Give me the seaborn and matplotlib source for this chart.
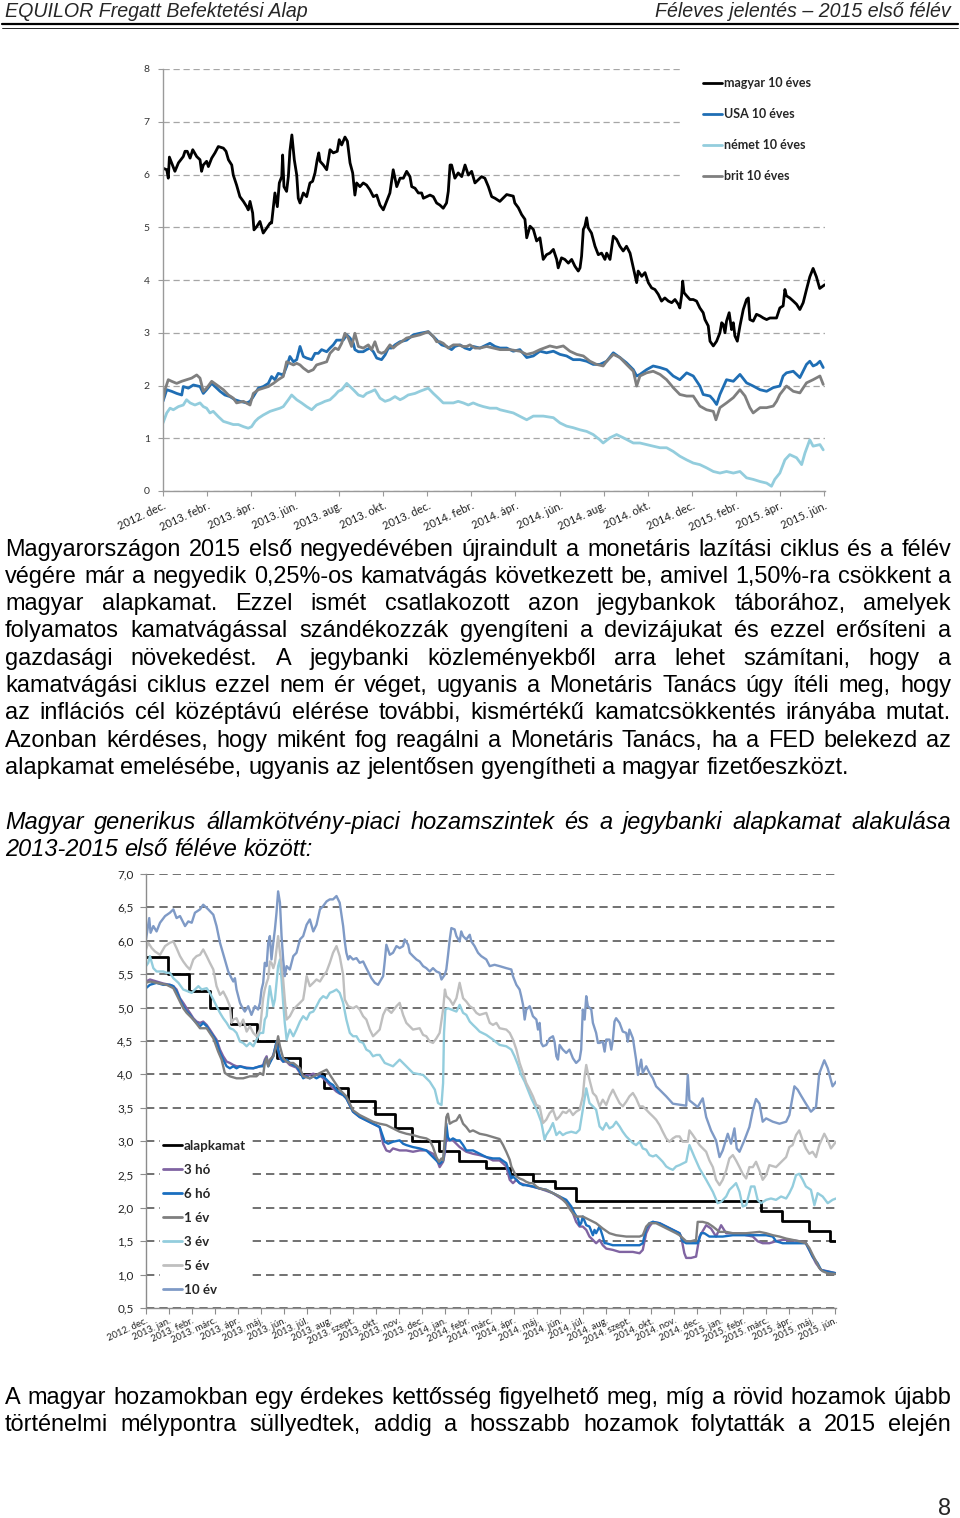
import numpy as np
import matplotlib
matplotlib.use("Agg")
import matplotlib.pyplot as plt
from matplotlib.lines import Line2D
import seaborn as sns

W, H, DPI = 960, 1518, 100

# ---------------- Chart 1: 10-year government bond yields (x = months since 2012 Dec) ----------------
c1_ticks = ["2012. dec.", "2013. febr.", "2013. ápr.", "2013. jún.", "2013. aug.", "2013. okt.",
            "2013. dec.", "2014. febr.", "2014. ápr.", "2014. jún.", "2014. aug.", "2014. okt.",
            "2014. dec.", "2015. febr.", "2015. ápr.", "2015. jún."]
c1_labels = ["magyar 10 éves", "USA 10 éves", "német 10 éves", "brit 10 éves"]

hu10 = [[0.00,6.12],[0.17,6.09],[0.24,5.93],[0.29,6.33],[0.39,6.22],[0.54,6.06],[0.70,6.22],[0.92,6.34],[1.00,6.44],[1.10,6.44],
        [1.23,6.31],[1.35,6.47],[1.53,6.34],[1.68,6.28],[1.75,6.06],[1.83,6.18],[1.98,6.25],[2.06,6.15],[2.21,6.31],[2.36,6.41],
        [2.51,6.53],[2.74,6.50],[2.86,6.44],[2.97,6.28],[3.12,6.18],[3.19,5.99],[3.34,5.80],[3.49,5.58],[3.65,5.49],[3.80,5.39],
        [3.87,5.33],[3.95,5.49],[4.07,5.27],[4.13,4.95],[4.25,5.01],[4.40,5.11],[4.55,4.89],[4.70,4.98],[4.86,5.08],[4.93,5.08],
        [5.01,5.39],[5.08,5.65],[5.19,5.39],[5.28,5.84],[5.39,5.96],[5.43,6.37],[5.49,5.77],[5.61,5.68],[5.69,5.96],[5.76,6.44],
        [5.85,6.75],[5.96,6.28],[6.07,5.99],[6.14,5.55],[6.22,5.46],[6.37,5.65],[6.52,5.58],[6.67,5.84],[6.79,5.87],[6.90,6.03],
        [7.00,6.28],[7.07,6.41],[7.13,6.25],[7.28,6.18],[7.43,6.09],[7.58,6.47],[7.73,6.41],[7.91,6.44],[8.00,6.66],[8.11,6.56],
        [8.26,6.71],[8.37,6.63],[8.49,6.22],[8.61,6.03],[8.67,5.77],[8.71,5.61],[8.79,5.84],[8.94,5.77],[9.09,5.84],[9.24,5.80],
        [9.39,5.71],[9.55,5.58],[9.70,5.61],[9.85,5.42],[10.00,5.33],[10.15,5.49],[10.30,5.65],[10.45,6.09],[10.61,5.77],[10.76,5.93],
        [10.91,5.93],[11.06,6.06],[11.21,5.96],[11.29,5.77],[11.44,5.74],[11.59,5.65],[11.74,5.65],[11.82,5.55],[11.97,5.58],[12.12,5.61],
        [12.27,5.58],[12.42,5.46],[12.57,5.42],[12.72,5.36],[12.87,5.46],[12.95,5.68],[13.03,6.18],[13.10,6.18],[13.25,5.93],[13.40,6.03],
        [13.56,5.96],[13.71,6.18],[13.86,5.99],[14.01,6.06],[14.16,5.84],[14.31,5.90],[14.46,5.96],[14.61,5.93],[14.77,5.77],[14.92,5.58],
        [15.07,5.55],[15.29,5.49],[15.60,5.62],[15.90,5.59],[15.97,5.46],[16.13,5.37],[16.28,5.24],[16.43,5.15],[16.51,4.80],[16.66,5.02],
        [16.81,4.96],[16.96,4.74],[17.11,4.80],[17.19,4.58],[17.26,4.39],[17.41,4.48],[17.56,4.51],[17.72,4.58],[17.87,4.39],[17.94,4.23],
        [18.09,4.42],[18.24,4.39],[18.40,4.32],[18.55,4.39],[18.70,4.26],[18.85,4.17],[18.93,4.23],[19.00,4.45],[19.08,4.96],[19.15,5.02],
        [19.23,5.18],[19.30,4.99],[19.45,4.89],[19.61,4.64],[19.76,4.48],[19.91,4.51],[20.06,4.39],[20.14,4.51],[20.29,4.39],[20.44,4.83],
        [20.59,4.77],[20.74,4.64],[20.89,4.55],[21.04,4.64],[21.20,4.51],[21.35,4.23],[21.50,3.95],[21.57,4.17],[21.73,4.07],[21.88,4.14],
        [22.03,3.95],[22.18,3.85],[22.33,3.82],[22.48,3.73],[22.63,3.60],[22.78,3.66],[22.94,3.60],[23.09,3.57],[23.24,3.63],[23.39,3.54],
        [23.46,3.47],[23.54,3.70],[23.59,3.98],[23.65,3.76],[23.77,3.70],[23.92,3.63],[24.07,3.63],[24.22,3.60],[24.37,3.47],[24.52,3.38],
        [24.60,3.25],[24.75,3.13],[24.83,2.84],[24.98,2.75],[25.13,2.84],[25.28,3.00],[25.36,3.19],[25.43,3.16],[25.51,3.00],[25.58,3.22],
        [25.70,3.38],[25.81,3.06],[25.89,3.19],[25.96,2.94],[26.07,2.84],[26.19,3.13],[26.34,3.44],[26.49,3.63],[26.57,3.66],[26.64,3.25],
        [26.79,3.22],[26.94,3.35],[27.10,3.32],[27.25,3.28],[27.40,3.25],[27.55,3.28],[27.85,3.28],[28.00,3.47],[28.15,3.51],[28.23,3.82],
        [28.30,3.70],[28.45,3.66],[28.61,3.60],[28.76,3.54],[28.91,3.44],[29.06,3.57],[29.21,3.82],[29.36,4.06],[29.51,4.22],[29.66,4.06],
        [29.81,3.84],[30.04,3.91]]

usa10 = [[0.00,1.70],[0.17,1.92],[0.39,1.89],[0.62,1.85],[0.85,1.82],[0.92,1.98],[1.15,1.95],[1.38,2.01],[1.68,1.98],[1.83,1.85],
         [1.98,1.92],[2.21,2.04],[2.36,1.98],[2.59,1.89],[2.81,1.82],[3.04,1.79],[3.27,1.73],[3.49,1.70],[3.80,1.67],[3.95,1.70],
         [4.10,1.79],[4.33,1.95],[4.55,1.98],[4.78,2.04],[4.93,2.17],[5.08,2.11],[5.23,2.23],[5.46,2.20],[5.61,2.36],[5.76,2.55],
         [5.92,2.45],[6.07,2.49],[6.22,2.74],[6.37,2.55],[6.52,2.52],[6.75,2.49],[6.90,2.61],[7.05,2.61],[7.20,2.68],[7.43,2.64],
         [7.58,2.71],[7.73,2.77],[7.88,2.86],[8.03,2.86],[8.18,2.86],[8.34,2.96],[8.49,2.90],[8.64,2.80],[8.71,2.68],[8.87,2.64],
         [9.09,2.64],[9.24,2.68],[9.39,2.71],[9.55,2.64],[9.70,2.52],[9.92,2.49],[10.08,2.58],[10.23,2.71],[10.38,2.71],[10.53,2.77],
         [10.76,2.83],[11.06,2.86],[11.36,2.96],[11.66,2.99],[12.04,3.02],[12.19,2.96],[12.34,2.90],[12.50,2.83],[12.65,2.77],[12.87,2.74],
         [13.10,2.68],[13.25,2.74],[13.48,2.77],[13.71,2.71],[13.93,2.68],[14.08,2.74],[14.39,2.71],[14.69,2.77],[14.84,2.80],[15.07,2.74],
         [15.30,2.71],[15.60,2.71],[15.90,2.65],[16.20,2.68],[16.51,2.53],[16.81,2.56],[17.11,2.65],[17.41,2.62],[17.72,2.65],[18.02,2.59],
         [18.32,2.56],[18.62,2.49],[18.93,2.49],[19.23,2.46],[19.53,2.40],[19.83,2.40],[20.14,2.46],[20.44,2.62],[20.74,2.53],[21.04,2.43],
         [21.35,2.30],[21.50,2.18],[21.65,2.21],[21.95,2.30],[22.25,2.37],[22.56,2.34],[22.86,2.30],[23.16,2.18],[23.46,2.11],[23.77,2.24],
         [24.07,2.18],[24.37,1.99],[24.52,1.83],[24.83,1.80],[24.98,1.73],[25.13,1.64],[25.28,1.83],[25.58,2.11],[25.89,2.08],[26.19,2.21],
         [26.49,2.05],[26.79,1.99],[27.10,1.92],[27.40,1.89],[27.70,1.96],[28.00,1.99],[28.15,2.18],[28.30,2.24],[28.61,2.27],[28.91,2.15],
         [29.21,2.40],[29.36,2.46],[29.51,2.37],[29.67,2.40],[29.82,2.46],[29.97,2.34]]

ger10 = [[0.00,1.29],[0.17,1.48],[0.32,1.57],[0.47,1.54],[0.70,1.60],[0.92,1.63],[1.07,1.73],[1.23,1.67],[1.45,1.63],[1.68,1.67],
         [1.83,1.60],[1.98,1.57],[2.13,1.48],[2.28,1.51],[2.51,1.41],[2.74,1.32],[2.97,1.29],[3.19,1.26],[3.42,1.26],[3.65,1.22],
         [3.87,1.19],[4.02,1.22],[4.18,1.32],[4.33,1.38],[4.55,1.44],[4.86,1.51],[5.08,1.54],[5.31,1.57],[5.46,1.60],[5.69,1.73],
         [5.84,1.82],[6.07,1.73],[6.29,1.67],[6.52,1.60],[6.75,1.54],[6.97,1.63],[7.20,1.67],[7.35,1.70],[7.58,1.73],[7.81,1.82],
         [7.96,1.89],[8.11,1.92],[8.34,2.04],[8.49,1.98],[8.64,1.92],[8.87,1.82],[9.09,1.79],[9.24,1.85],[9.47,1.89],[9.62,1.92],
         [9.85,1.76],[10.08,1.70],[10.30,1.73],[10.53,1.79],[10.76,1.73],[10.91,1.76],[11.13,1.82],[11.44,1.85],[11.66,1.89],[12.04,1.95],
         [12.27,1.85],[12.50,1.76],[12.72,1.67],[12.95,1.67],[13.18,1.67],[13.40,1.70],[13.63,1.67],[13.86,1.63],[14.08,1.67],[14.31,1.63],
         [14.54,1.60],[14.84,1.57],[15.14,1.57],[15.30,1.54],[15.90,1.48],[16.51,1.35],[16.81,1.42],[17.26,1.42],[17.72,1.39],[18.02,1.29],
         [18.32,1.23],[18.62,1.20],[18.93,1.16],[19.23,1.13],[19.53,1.07],[19.83,0.97],[19.98,0.91],[20.29,1.01],[20.59,1.07],[20.89,1.01],
         [21.35,0.91],[21.65,0.91],[21.95,0.88],[22.25,0.85],[22.56,0.82],[22.86,0.82],[23.16,0.75],[23.46,0.66],[23.77,0.59],[24.07,0.53],
         [24.37,0.50],[24.67,0.44],[24.98,0.37],[25.28,0.34],[25.58,0.37],[25.89,0.34],[26.19,0.37],[26.49,0.25],[26.79,0.22],[27.10,0.18],
         [27.40,0.15],[27.62,0.09],[27.77,0.22],[28.00,0.34],[28.23,0.59],[28.45,0.69],[28.76,0.63],[28.99,0.50],[29.14,0.72],[29.36,0.97],
         [29.51,0.85],[29.82,0.88],[29.97,0.78]]

gbr10 = [[0.00,1.73],[0.09,1.92],[0.24,2.11],[0.39,2.08],[0.62,2.04],[0.85,2.08],[1.07,2.11],[1.30,2.14],[1.53,2.20],[1.68,2.14],
         [1.83,1.89],[1.98,1.95],[2.21,2.08],[2.44,2.01],[2.74,1.92],[2.97,1.82],[3.19,1.76],[3.34,1.67],[3.65,1.70],[3.95,1.63],
         [4.10,1.85],[4.33,1.92],[4.55,1.95],[4.78,1.98],[5.01,2.04],[5.23,2.11],[5.46,2.17],[5.61,2.45],[5.76,2.42],[5.92,2.39],
         [6.07,2.42],[6.22,2.39],[6.37,2.33],[6.60,2.26],[6.82,2.30],[6.97,2.39],[7.20,2.42],[7.43,2.45],[7.58,2.61],[7.81,2.71],
         [7.96,2.68],[8.11,2.80],[8.26,2.99],[8.41,2.90],[8.56,2.74],[8.71,2.99],[8.87,2.74],[9.09,2.71],[9.32,2.77],[9.47,2.68],
         [9.62,2.83],[9.77,2.64],[9.92,2.61],[10.08,2.64],[10.30,2.77],[10.45,2.71],[10.61,2.77],[10.83,2.83],[11.06,2.90],[11.36,2.93],
         [11.66,2.96],[12.04,3.02],[12.27,2.93],[12.42,2.83],[12.57,2.83],[12.72,2.80],[12.95,2.71],[13.18,2.77],[13.40,2.77],[13.63,2.74],
         [13.78,2.74],[13.93,2.77],[14.16,2.71],[14.39,2.71],[14.69,2.74],[14.99,2.71],[15.30,2.68],[15.75,2.68],[16.20,2.65],[16.51,2.59],
         [16.81,2.62],[17.11,2.68],[17.56,2.75],[17.87,2.72],[18.17,2.75],[18.47,2.65],[18.78,2.59],[19.08,2.56],[19.38,2.46],[19.68,2.40],
         [19.98,2.37],[20.14,2.46],[20.44,2.59],[20.74,2.53],[21.04,2.40],[21.35,2.27],[21.50,1.99],[21.65,2.18],[21.95,2.24],[22.25,2.27],
         [22.56,2.21],[22.86,2.11],[23.16,1.96],[23.46,1.83],[23.77,1.80],[24.07,1.80],[24.37,1.61],[24.67,1.54],[24.98,1.51],[25.10,1.35],
         [25.28,1.58],[25.58,1.67],[25.89,1.77],[26.19,1.92],[26.42,1.80],[26.64,1.58],[26.79,1.48],[27.10,1.58],[27.40,1.58],[27.70,1.61],
         [27.85,1.70],[28.00,1.83],[28.30,1.99],[28.61,1.89],[28.91,1.86],[29.21,2.05],[29.51,2.11],[29.82,2.18],[29.97,2.02]]

# ---------------- Chart 2: Hungarian yields and base rate (x = months since 2012 Dec) ----------------
c2_ticks = ["2012. dec.", "2013. jan.", "2013. febr.", "2013. márc.", "2013. ápr.", "2013. máj.", "2013. jún.",
            "2013. júl.", "2013. aug.", "2013. szept.", "2013. okt.", "2013. nov.", "2013. dec.", "2014. jan.",
            "2014. febr.", "2014. márc.", "2014. ápr.", "2014. máj.", "2014. jún.", "2014. júl.", "2014. aug.",
            "2014. szept.", "2014. okt.", "2014. nov.", "2014. dec.", "2015. jan.", "2015. febr.", "2015. márc.",
            "2015. ápr.", "2015. máj.", "2015. jún."]
c2_labels = ["alapkamat", "3 hó", "6 hó", "1 év", "3 év", "5 év", "10 év"]
c2_yticks = ["0,5", "1,0", "1,5", "2,0", "2,5", "3,0", "3,5", "4,0", "4,5", "5,0", "5,5", "6,0", "6,5", "7,0"]

base_m = [0.00, 0.97, 1.88, 2.78, 3.72, 4.84, 5.68, 6.70, 7.75, 8.80, 9.96, 10.85, 11.57, 12.75,
          13.62, 14.78, 15.83, 16.84, 17.78, 18.72, 26.77, 27.68, 28.84, 29.78, 30.03]
base_v = [5.75, 5.50, 5.25, 5.00, 4.75, 4.50, 4.25, 4.00, 3.80, 3.60, 3.40, 3.20, 3.00, 2.85,
          2.70, 2.60, 2.50, 2.40, 2.30, 2.10, 1.95, 1.80, 1.65, 1.50, 1.50]

m3 = [[0.00,5.39],[0.17,5.42],[0.46,5.39],[0.75,5.36],[1.04,5.34],[1.19,5.32],[1.33,5.27],[1.48,5.14],[1.62,5.07],[1.77,4.99],
      [1.91,4.92],[2.06,4.84],[2.20,4.79],[2.35,4.77],[2.49,4.79],[2.64,4.74],[2.78,4.67],[2.93,4.59],[3.07,4.52],[3.22,4.37],
      [3.36,4.27],[3.51,4.19],[3.65,4.17],[3.80,4.14],[3.94,4.12],[4.09,4.12],[4.38,4.10],[4.67,4.09],[4.96,4.12],[5.10,4.14],
      [5.17,4.22],[5.25,4.27],[5.32,4.14],[5.39,4.19],[5.54,4.29],[5.68,4.47],[5.75,4.37],[5.83,4.24],[5.97,4.19],[6.12,4.19],
      [6.26,4.14],[6.41,4.12],[6.55,4.10],[6.70,4.02],[6.84,3.97],[6.99,3.99],[7.13,3.99],[7.28,4.01],[7.42,3.99],[7.57,3.99],
      [7.71,3.94],[7.86,3.89],[8.00,3.84],[8.14,3.79],[8.29,3.74],[8.43,3.71],[8.58,3.69],[8.72,3.64],[9.01,3.44],[9.30,3.36],
      [9.59,3.31],[9.88,3.26],[10.17,3.21],[10.32,2.96],[10.46,2.86],[10.61,2.84],[10.75,2.89],[11.04,2.86],[11.33,2.86],[11.62,2.84],
      [11.91,2.86],[12.20,2.86],[12.49,2.81],[12.64,2.74],[12.78,2.61],[12.93,2.69],[13.00,2.81],[13.07,3.06],[13.14,3.01],[13.36,3.01],
      [13.65,2.91],[13.94,2.84],[14.23,2.81],[14.52,2.79],[14.81,2.76],[15.10,2.71],[15.39,2.71],[15.68,2.62],[15.83,2.42],[15.97,2.37],
      [16.12,2.42],[16.26,2.37],[16.55,2.34],[17.13,2.29],[17.71,2.22],[18.29,2.09],[18.58,1.92],[18.72,1.79],[18.87,1.72],[19.01,1.72],
      [19.16,1.67],[19.30,1.57],[19.45,1.52],[19.59,1.47],[19.74,1.52],[19.88,1.44],[20.03,1.39],[20.32,1.37],[20.61,1.34],[20.90,1.34],
      [21.19,1.34],[21.48,1.32],[21.62,1.37],[21.77,1.62],[21.91,1.72],[22.06,1.79],[22.35,1.77],[22.64,1.72],[22.93,1.67],[23.22,1.62],
      [23.29,1.57],[23.43,1.32],[23.51,1.25],[23.72,1.25],[23.94,1.27],[24.09,1.57],[24.38,1.74],[24.59,1.69],[24.81,1.57],[25.03,1.74],
      [25.25,1.62],[25.54,1.62],[25.83,1.62],[26.12,1.59],[26.41,1.57],[26.62,1.50],[26.84,1.47],[27.13,1.47],[27.42,1.50],[27.71,1.52],
      [28.00,1.52],[28.43,1.50],[28.72,1.47],[28.94,1.32],[29.16,1.17],[29.38,1.07],[29.67,1.05],[30.03,1.02]]

m6 = [[0.00,5.29],[0.17,5.34],[0.46,5.37],[0.75,5.34],[1.04,5.34],[1.19,5.32],[1.33,5.24],[1.48,5.12],[1.62,5.02],[1.77,4.94],
      [1.91,4.89],[2.06,4.82],[2.20,4.77],[2.35,4.72],[2.49,4.77],[2.64,4.72],[2.78,4.64],[2.93,4.57],[3.07,4.49],[3.22,4.32],
      [3.36,4.22],[3.51,4.12],[3.65,4.09],[3.80,4.12],[3.94,4.09],[4.09,4.12],[4.38,4.09],[4.67,4.09],[4.96,4.12],[5.10,4.12],
      [5.17,4.19],[5.25,4.24],[5.32,4.12],[5.39,4.17],[5.54,4.27],[5.68,4.49],[5.75,4.37],[5.83,4.27],[5.97,4.19],[6.12,4.22],
      [6.26,4.17],[6.41,4.14],[6.55,4.12],[6.70,4.04],[6.84,3.94],[6.99,3.97],[7.13,3.94],[7.28,3.97],[7.42,3.94],[7.57,3.97],
      [7.71,3.97],[7.86,3.92],[8.00,3.87],[8.14,3.84],[8.29,3.77],[8.43,3.72],[8.58,3.69],[8.72,3.64],[9.01,3.44],[9.30,3.36],
      [9.59,3.31],[9.88,3.26],[10.17,3.21],[10.32,3.06],[10.39,2.99],[10.54,2.96],[10.75,2.99],[11.04,3.01],[11.19,2.96],[11.33,2.94],
      [11.62,2.91],[11.91,2.89],[12.20,2.86],[12.49,2.76],[12.64,2.71],[12.78,2.66],[12.93,2.71],[13.00,2.91],[13.07,3.26],[13.14,3.06],
      [13.22,3.01],[13.36,3.04],[13.51,3.01],[13.65,3.01],[13.80,2.94],[13.94,2.86],[14.23,2.86],[14.52,2.81],[14.81,2.76],[15.10,2.74],
      [15.39,2.74],[15.68,2.67],[15.83,2.52],[15.90,2.44],[15.97,2.47],[16.12,2.42],[16.26,2.37],[16.41,2.34],[16.55,2.34],[16.84,2.32],
      [17.13,2.29],[17.42,2.27],[17.71,2.22],[18.00,2.17],[18.29,2.12],[18.51,2.02],[18.65,1.92],[18.80,1.84],[18.87,1.74],[18.94,1.77],
      [19.01,1.87],[19.16,1.74],[19.30,1.72],[19.45,1.59],[19.52,1.67],[19.59,1.62],[19.74,1.72],[19.88,1.57],[19.96,1.47],[20.03,1.47],
      [20.32,1.44],[20.61,1.44],[20.90,1.44],[21.19,1.44],[21.48,1.44],[21.62,1.47],[21.77,1.69],[21.91,1.77],[22.06,1.79],[22.35,1.77],
      [22.64,1.72],[22.93,1.67],[23.22,1.62],[23.36,1.50],[23.51,1.47],[23.80,1.47],[24.01,1.47],[24.16,1.62],[24.30,1.62],[24.52,1.57],
      [24.81,1.57],[25.10,1.57],[25.54,1.59],[25.83,1.59],[26.41,1.59],[26.99,1.59],[27.28,1.57],[27.42,1.50],[27.71,1.47],[28.14,1.47],
      [28.72,1.47],[28.87,1.37],[29.01,1.27],[29.23,1.17],[29.38,1.07],[29.59,1.05],[29.88,1.03],[30.03,1.02]]

y1 = [[0.00,5.37],[0.17,5.39],[0.46,5.37],[0.90,5.34],[1.19,5.29],[1.48,5.09],[1.62,4.99],[1.77,4.92],[2.06,4.82],[2.35,4.69],
      [2.64,4.69],[2.93,4.54],[3.14,4.34],[3.29,4.22],[3.43,4.02],[3.65,3.97],[3.94,3.94],[4.23,3.94],[4.52,3.97],[4.81,3.97],
      [4.96,4.02],[5.10,3.99],[5.17,4.17],[5.25,4.24],[5.32,4.12],[5.39,4.22],[5.54,4.27],[5.65,4.39],[5.75,4.57],[5.83,4.42],
      [5.97,4.24],[6.12,4.19],[6.26,4.17],[6.41,4.17],[6.70,4.09],[6.84,3.97],[7.13,3.94],[7.57,4.02],[7.86,4.07],[8.14,3.92],
      [8.43,3.77],[8.72,3.67],[9.01,3.46],[9.30,3.39],[9.59,3.34],[9.88,3.29],[10.17,3.26],[10.46,3.24],[10.75,3.19],[11.04,3.14],
      [11.33,3.11],[11.62,3.09],[11.91,3.06],[12.20,3.04],[12.35,3.01],[12.49,2.91],[12.64,2.76],[12.75,2.69],[12.86,2.74],[12.93,2.71],
      [13.00,3.01],[13.07,3.36],[13.14,3.41],[13.22,3.26],[13.36,3.29],[13.51,3.31],[13.65,3.39],[13.80,3.26],[13.94,3.21],[14.09,3.14],
      [14.23,3.16],[14.52,3.11],[14.81,3.09],[15.10,3.06],[15.39,3.03],[15.54,2.94],[15.68,2.84],[15.83,2.72],[15.90,2.62],[15.97,2.57],
      [16.12,2.47],[16.26,2.44],[16.41,2.42],[16.55,2.39],[16.70,2.37],[16.84,2.37],[16.99,2.32],[17.13,2.29],[17.42,2.27],[17.71,2.22],
      [18.00,2.17],[18.29,2.07],[18.43,1.99],[18.58,1.92],[18.72,1.87],[19.01,1.87],[19.30,1.82],[19.59,1.77],[19.88,1.69],[20.17,1.62],
      [20.46,1.59],[20.90,1.57],[21.48,1.57],[21.62,1.59],[21.77,1.72],[21.91,1.77],[22.20,1.77],[22.49,1.72],[22.78,1.67],[23.07,1.62],
      [23.22,1.59],[23.51,1.50],[23.72,1.50],[23.94,1.52],[24.01,1.79],[24.23,1.79],[24.45,1.77],[24.67,1.72],[24.96,1.64],[25.25,1.64],
      [25.54,1.62],[26.12,1.62],[26.70,1.64],[26.99,1.62],[27.28,1.59],[27.57,1.57],[27.86,1.54],[28.14,1.52],[28.43,1.50],[28.72,1.47],
      [28.87,1.40],[29.01,1.30],[29.16,1.20],[29.30,1.10],[29.45,1.05],[29.67,1.02],[30.03,1.01]]

y3 = [[0.00,5.62],[0.10,5.67],[0.17,5.77],[0.32,5.59],[0.46,5.54],[0.61,5.54],[0.75,5.54],[0.90,5.52],[1.04,5.52],[1.19,5.44],
      [1.41,5.37],[1.62,5.27],[1.84,5.24],[1.99,5.22],[2.13,5.27],[2.28,5.32],[2.42,5.27],[2.64,5.29],[2.78,5.22],[2.93,5.12],
      [3.07,5.02],[3.22,4.92],[3.36,4.84],[3.51,4.77],[3.65,4.69],[3.80,4.67],[3.94,4.62],[4.09,4.49],[4.23,4.47],[4.38,4.42],
      [4.52,4.47],[4.67,4.42],[4.81,4.52],[4.96,4.62],[5.10,4.62],[5.17,4.82],[5.25,4.87],[5.32,5.12],[5.39,5.32],[5.46,5.17],
      [5.54,5.02],[5.61,5.12],[5.68,5.37],[5.75,5.62],[5.83,5.72],[5.90,5.42],[5.97,5.07],[6.04,4.77],[6.12,4.52],[6.26,4.67],
      [6.41,4.57],[6.55,4.67],[6.70,4.79],[6.84,4.87],[6.99,4.82],[7.13,4.92],[7.28,4.94],[7.42,5.02],[7.57,5.12],[7.71,5.17],
      [7.86,5.14],[8.00,5.22],[8.14,5.24],[8.29,5.27],[8.43,5.22],[8.58,5.07],[8.72,4.82],[8.87,4.62],[9.01,4.57],[9.16,4.57],
      [9.30,4.49],[9.45,4.47],[9.59,4.37],[9.74,4.34],[9.88,4.27],[10.03,4.29],[10.17,4.29],[10.39,4.17],[10.75,4.12],[11.04,4.22],
      [11.33,4.12],[11.62,4.02],[12.06,3.99],[12.35,3.89],[12.57,3.77],[12.71,3.57],[12.86,3.54],[12.93,3.87],[12.97,4.62],[13.03,4.97],
      [13.14,4.99],[13.29,4.97],[13.51,4.94],[13.65,5.04],[13.80,4.92],[13.94,4.89],[14.09,4.79],[14.23,4.74],[14.38,4.69],[14.52,4.64],
      [14.81,4.59],[15.10,4.52],[15.39,4.44],[15.68,4.42],[15.90,4.37],[16.04,4.27],[16.19,4.14],[16.33,3.99],[16.48,3.89],[16.62,3.77],
      [16.77,3.64],[16.91,3.54],[17.06,3.42],[17.20,3.29],[17.35,3.02],[17.42,3.09],[17.57,3.17],[17.71,3.27],[17.86,3.09],[18.00,3.14],
      [18.14,3.09],[18.29,3.12],[18.51,3.14],[18.72,3.12],[18.87,3.17],[19.01,3.47],[19.16,3.79],[19.30,3.57],[19.45,3.52],[19.59,3.47],
      [19.74,3.22],[19.88,3.17],[20.03,3.27],[20.17,3.19],[20.32,3.22],[20.46,3.29],[20.61,3.22],[20.75,3.14],[20.90,3.07],[21.19,2.97],
      [21.33,2.94],[21.48,2.99],[21.62,2.89],[21.77,2.87],[21.91,2.79],[22.06,2.77],[22.20,2.79],[22.35,2.74],[22.49,2.69],[22.64,2.62],
      [22.78,2.59],[22.93,2.57],[23.07,2.62],[23.22,2.64],[23.51,2.69],[23.65,2.94],[23.87,2.76],[24.09,2.59],[24.38,2.42],[24.67,2.24],
      [24.88,2.07],[25.03,2.09],[25.25,2.17],[25.39,2.27],[25.54,2.32],[25.68,2.37],[25.83,2.24],[25.97,2.02],[26.12,2.04],[26.33,2.32],
      [26.48,2.32],[26.62,2.12],[26.77,2.07],[26.99,2.12],[27.20,2.14],[27.42,2.12],[27.64,2.17],[27.86,2.14],[28.00,2.22],[28.14,2.32],
      [28.29,2.49],[28.43,2.51],[28.58,2.42],[28.72,2.32],[28.94,2.27],[29.09,2.04],[29.23,2.22],[29.45,2.17],[29.67,2.07],[29.88,2.12],
      [30.03,2.14]]

y5 = [[0.00,5.87],[0.10,5.97],[0.25,5.89],[0.39,5.84],[0.61,5.79],[0.83,5.92],[1.04,5.97],[1.19,5.99],[1.33,5.89],[1.48,5.77],
      [1.62,5.69],[1.77,5.62],[1.91,5.57],[2.06,5.72],[2.20,5.77],[2.35,5.79],[2.49,5.87],[2.64,5.77],[2.78,5.67],[2.93,5.57],
      [3.07,5.32],[3.22,5.19],[3.36,5.24],[3.51,5.14],[3.65,5.02],[3.72,4.77],[3.80,4.82],[3.94,4.84],[4.09,4.72],[4.23,4.82],
      [4.38,4.64],[4.52,4.72],[4.67,4.62],[4.81,4.57],[4.96,4.67],[5.10,5.14],[5.17,5.27],[5.25,5.37],[5.32,5.44],[5.39,5.69],
      [5.46,5.67],[5.54,5.59],[5.61,5.67],[5.68,5.87],[5.75,6.07],[5.83,5.82],[5.90,5.62],[5.97,5.42],[6.04,5.12],[6.12,4.82],
      [6.26,4.87],[6.41,4.97],[6.55,5.02],[6.70,5.07],[6.84,5.12],[6.91,5.27],[6.99,5.47],[7.13,5.32],[7.28,5.37],[7.42,5.42],
      [7.57,5.39],[7.71,5.47],[7.86,5.54],[8.00,5.67],[8.14,5.82],[8.29,5.92],[8.43,5.77],[8.58,5.49],[8.65,5.12],[8.80,5.02],
      [9.01,4.99],[9.16,5.02],[9.30,4.97],[9.45,4.87],[9.59,4.82],[9.74,4.67],[9.88,4.57],[10.03,4.62],[10.17,4.67],[10.32,4.89],
      [10.46,4.99],[10.68,4.92],[10.90,5.02],[11.04,5.07],[11.19,4.89],[11.33,4.77],[11.62,4.67],[11.91,4.69],[12.06,4.59],[12.20,4.57],
      [12.35,4.49],[12.49,4.47],[12.64,4.54],[12.78,4.62],[12.93,4.97],[13.01,5.27],[13.07,5.17],[13.22,5.12],[13.36,5.04],[13.51,5.14],
      [13.65,5.37],[13.80,5.14],[13.94,5.09],[14.09,5.02],[14.23,4.99],[14.38,4.92],[14.52,4.89],[14.81,4.92],[14.96,4.77],[15.10,4.74],
      [15.25,4.77],[15.39,4.69],[15.68,4.67],[15.83,4.62],[15.97,4.52],[16.12,4.37],[16.26,4.17],[16.41,4.02],[16.55,3.87],[16.70,3.77],
      [16.84,3.67],[16.99,3.54],[17.13,3.52],[17.28,3.27],[17.42,3.32],[17.57,3.42],[17.71,3.47],[17.86,3.32],[18.00,3.37],[18.14,3.44],
      [18.29,3.42],[18.43,3.47],[18.58,3.39],[18.72,3.44],[18.87,3.47],[19.01,3.67],[19.09,3.97],[19.16,4.14],[19.23,4.02],[19.30,3.92],
      [19.45,3.72],[19.59,3.67],[19.74,3.52],[19.88,3.62],[20.03,3.54],[20.17,3.67],[20.32,3.77],[20.46,3.67],[20.61,3.57],[20.75,3.52],
      [20.90,3.59],[21.04,3.67],[21.19,3.72],[21.33,3.64],[21.48,3.52],[21.62,3.52],[21.77,3.47],[21.91,3.42],[22.06,3.37],[22.20,3.32],
      [22.35,3.24],[22.49,3.14],[22.64,3.04],[22.78,2.99],[22.93,3.04],[23.07,3.07],[23.22,3.07],[23.36,2.99],[23.58,2.99],[23.65,3.16],
      [23.80,3.09],[24.09,2.94],[24.38,2.84],[24.52,2.71],[24.67,2.61],[24.81,2.42],[24.96,2.34],[25.10,2.42],[25.25,2.56],[25.39,2.74],
      [25.54,2.79],[25.68,2.71],[25.83,2.61],[25.97,2.51],[26.12,2.44],[26.26,2.61],[26.41,2.61],[26.55,2.69],[26.70,2.56],[26.84,2.42],
      [26.99,2.49],[27.13,2.64],[27.42,2.61],[27.71,2.71],[27.86,2.76],[28.00,2.91],[28.14,2.94],[28.29,3.09],[28.43,3.16],[28.58,3.01],
      [28.72,2.89],[28.87,2.81],[29.01,2.84],[29.16,2.76],[29.30,2.94],[29.52,3.11],[29.67,3.01],[29.81,2.89],[29.96,2.96],[30.03,2.99]]

y10 = [[0.00,6.02],[0.14,6.34],[0.20,6.12],[0.32,6.22],[0.46,6.14],[0.61,6.27],[0.83,6.37],[1.04,6.42],[1.19,6.47],[1.33,6.34],
       [1.48,6.37],[1.70,6.22],[1.84,6.29],[1.99,6.27],[2.13,6.42],[2.35,6.47],[2.49,6.54],[2.71,6.47],[2.93,6.39],[3.07,6.22],
       [3.22,5.97],[3.43,5.72],[3.58,5.54],[3.72,5.44],[3.80,5.39],[3.87,5.44],[3.94,5.27],[4.09,5.07],[4.16,5.02],[4.30,4.94],
       [4.45,5.02],[4.59,4.89],[4.74,5.02],[4.88,4.97],[4.96,5.07],[5.03,5.27],[5.10,5.37],[5.17,5.67],[5.25,5.62],[5.32,5.97],
       [5.39,6.07],[5.46,5.72],[5.54,5.97],[5.61,6.17],[5.68,6.42],[5.75,6.74],[5.83,6.57],[5.90,6.07],[5.97,5.72],[6.04,5.47],
       [6.12,5.62],[6.26,5.57],[6.41,5.77],[6.55,5.82],[6.70,6.02],[6.84,6.07],[6.99,6.24],[7.13,6.32],[7.28,6.14],[7.42,6.24],
       [7.57,6.47],[7.71,6.52],[7.86,6.59],[8.00,6.62],[8.14,6.62],[8.29,6.67],[8.43,6.57],[8.58,6.22],[8.65,5.99],[8.72,5.82],
       [8.80,5.72],[8.87,5.77],[9.01,5.72],[9.16,5.74],[9.30,5.67],[9.45,5.69],[9.59,5.59],[9.81,5.44],[9.96,5.37],[10.10,5.34],
       [10.32,5.47],[10.39,5.69],[10.46,5.94],[10.61,5.79],[10.75,5.82],[10.90,5.92],[11.04,5.89],[11.19,5.92],[11.26,6.02],[11.41,5.94],
       [11.48,5.82],[11.62,5.77],[11.77,5.72],[11.91,5.69],[12.06,5.62],[12.20,5.59],[12.35,5.54],[12.49,5.59],[12.64,5.54],[12.78,5.52],
       [12.86,5.42],[13.00,5.49],[13.07,5.57],[13.14,5.77],[13.22,6.02],[13.29,6.19],[13.43,6.17],[13.51,6.07],[13.65,5.99],[13.72,6.14],
       [13.80,6.07],[13.94,6.02],[14.09,6.09],[14.16,5.99],[14.30,5.92],[14.45,5.82],[14.59,5.77],[14.81,5.72],[14.96,5.62],[15.17,5.64],
       [15.39,5.62],[15.68,5.59],[15.90,5.57],[15.97,5.47],[16.12,5.34],[16.26,5.27],[16.33,5.17],[16.41,5.04],[16.48,4.82],[16.55,4.97],
       [16.70,5.02],[16.84,4.87],[16.99,4.82],[17.06,4.67],[17.13,4.77],[17.20,4.47],[17.28,4.42],[17.42,4.44],[17.57,4.54],[17.71,4.57],
       [17.78,4.49],[17.86,4.27],[17.93,4.22],[18.00,4.44],[18.14,4.37],[18.29,4.32],[18.43,4.37],[18.58,4.24],[18.72,4.17],[18.87,4.22],
       [18.94,4.37],[19.01,4.97],[19.09,4.82],[19.16,5.17],[19.23,5.02],[19.38,4.97],[19.45,4.77],[19.59,4.62],[19.67,4.47],[19.74,4.47],
       [19.88,4.49],[19.96,4.34],[20.03,4.52],[20.17,4.52],[20.25,4.37],[20.32,4.52],[20.39,4.79],[20.46,4.84],[20.61,4.77],[20.75,4.64],
       [20.90,4.62],[20.97,4.49],[21.04,4.67],[21.19,4.54],[21.33,4.22],[21.41,3.99],[21.55,4.22],[21.62,4.02],[21.77,4.12],[21.91,4.02],
       [22.06,3.94],[22.20,3.82],[22.35,3.77],[22.64,3.67],[22.93,3.56],[23.51,3.53],[23.58,3.99],[23.65,3.61],[24.01,3.51],[24.23,3.64],
       [24.38,3.36],[24.59,3.16],[24.81,3.01],[24.96,2.76],[25.10,2.86],[25.32,3.11],[25.46,2.96],[25.61,3.19],[25.71,2.89],[25.83,2.84],
       [26.04,3.01],[26.26,3.21],[26.41,3.46],[26.55,3.63],[26.70,3.56],[26.84,3.29],[26.99,3.34],[27.28,3.29],[27.57,3.26],[27.86,3.29],
       [28.00,3.39],[28.22,3.82],[28.36,3.77],[28.51,3.68],[28.72,3.56],[28.94,3.44],[29.16,3.51],[29.30,4.01],[29.52,4.21],[29.67,4.09],
       [29.88,3.82],[30.03,3.89]]

# ---------------- Page text ----------------
header_left = "EQUILOR Fregatt Befektetési Alap"
header_right = "Féleves jelentés – 2015 első félév"
para1 = ["Magyarországon 2015 első negyedévében újraindult a monetáris lazítási ciklus és a félév",
         "végére már a negyedik 0,25%-os kamatvágás következett be, amivel 1,50%-ra csökkent a",
         "magyar alapkamat. Ezzel ismét csatlakozott azon jegybankok táborához, amelyek",
         "folyamatos kamatvágással szándékozzák gyengíteni a devizájukat és ezzel erősíteni a",
         "gazdasági növekedést. A jegybanki közleményekből arra lehet számítani, hogy a",
         "kamatvágási ciklus ezzel nem ér véget, ugyanis a Monetáris Tanács úgy ítéli meg, hogy",
         "az inflációs cél középtávú elérése további, kismértékű kamatcsökkentés irányába mutat.",
         "Azonban kérdéses, hogy miként fog reagálni a Monetáris Tanács, ha a FED belekezd az",
         "alapkamat emelésébe, ugyanis az jelentősen gyengítheti a magyar fizetőeszközt."]
caption = ["Magyar generikus államkötvény-piaci hozamszintek és a jegybanki alapkamat alakulása",
           "2013-2015 első féléve között:"]
para2 = ["A magyar hozamokban egy érdekes kettősség figyelhető meg, míg a rövid hozamok újabb",
         "történelmi mélypontra süllyedtek, addig a hosszabb hozamok folytatták a 2015 elején"]
page_no = "8"

# ======================================================================
sns.set_style("white")
plt.rcParams["font.family"] = ["Lato", "DejaVu Sans"]

fig = plt.figure(figsize=(W / DPI, H / DPI), dpi=DPI)
fig.patch.set_facecolor("white")
renderer = fig.canvas.get_renderer()
BODY = "Liberation Sans"


def px_axes(x0, y_top, x1, y_bot):
    return fig.add_axes([x0 / W, 1 - y_bot / H, (x1 - x0) / W, (y_bot - y_top) / H])


def series(ax, pts, color, lw, label, **kw):
    a = np.asarray(pts, dtype=float)
    sns.lineplot(x=a[:, 0], y=a[:, 1], ax=ax, color=color, linewidth=lw, label=label,
                 estimator=None, sort=False, **kw)


def text_width(s, size, style):
    t = fig.text(0, 0, s, fontsize=size, family=BODY, style=style)
    w = t.get_window_extent(renderer=renderer).width
    t.remove()
    return w


def fit_size(s, width, style="normal"):
    return 10 * width / text_width(s, 10, style)


def put_line(s, y_base, size, style="normal", justify=True, x0=5, x1=951):
    words = s.split(" ")
    objs, widths = [], []
    for w in words:
        t = fig.text(0, 1 - y_base / H, w, fontsize=size, family=BODY, style=style,
                     va="baseline", ha="left", color="black")
        widths.append(t.get_window_extent(renderer=renderer).width)
        objs.append(t)
    if justify and len(words) > 1:
        gap = (x1 - x0 - sum(widths)) / (len(words) - 1)
    else:
        gap = text_width("a a", size, style) - text_width("aa", size, style)
    x = x0
    for t, wd in zip(objs, widths):
        t.set_x(x / W)
        x += wd + gap


# ---------------- header ----------------
hsize = fit_size(header_left, 304, "italic")
fig.text(5 / W, 1 - 17 / H, header_left, fontsize=hsize, family=BODY, style="italic", va="baseline", ha="left")
fig.text(951 / W, 1 - 17 / H, header_right, fontsize=hsize, family=BODY, style="italic", va="baseline", ha="right")
fig.add_artist(Line2D([2 / W, 958 / W], [1 - 24 / H, 1 - 24 / H], color="black", linewidth=1.6))
fig.add_artist(Line2D([2 / W, 958 / W], [1 - 27.5 / H, 1 - 27.5 / H], color="black", linewidth=0.6))

# ---------------- body text ----------------
bsize = fit_size(para1[-1], 848)
p1_y = [556, 583, 610, 637, 665, 692, 719, 747, 774]
for i, (s, y) in enumerate(zip(para1, p1_y)):
    put_line(s, y, bsize, justify=(i < len(para1) - 1))
csize = fit_size(caption[1], 308, "italic")
put_line(caption[0], 829, csize, style="italic", justify=True)
put_line(caption[1], 856, csize, style="italic", justify=False)
put_line(para2[0], 1404, bsize, justify=True)
put_line(para2[1], 1431, bsize, justify=True)
fig.text(951 / W, 1 - 1515 / H, page_no, fontsize=bsize, family=BODY, va="baseline", ha="right")

# ---------------- chart 1 ----------------
ax1 = px_axes(163, 69, 825, 491)
series(ax1, hu10, "black", 2.0, c1_labels[0])
series(ax1, usa10, "#1F6EB4", 2.0, c1_labels[1])
series(ax1, ger10, "#93CDDD", 2.0, c1_labels[2])
series(ax1, gbr10, "#7F7F7F", 2.0, c1_labels[3])
ax1.set_xlim(0, 30.05)
ax1.set_ylim(0, 8)
ax1.set_yticks(range(0, 9))
ax1.set_yticklabels([str(v) for v in range(0, 9)], fontsize=7.5, color="#333333")
ax1.set_xticks(np.arange(0, 31, 2))
ax1.set_xticklabels(c1_ticks, rotation=25, ha="right", rotation_mode="anchor", fontsize=8, color="#222222")
ax1.yaxis.grid(True, linestyle=(0, (5, 3)), color="#A6A6A6", linewidth=0.9)
ax1.xaxis.grid(False)
ax1.set_axisbelow(True)
for sp in ["top", "right"]:
    ax1.spines[sp].set_visible(False)
for sp in ["left", "bottom"]:
    ax1.spines[sp].set_color("#9A9A9A")
    ax1.spines[sp].set_linewidth(1.0)
ax1.tick_params(axis="both", direction="out", length=3.5, width=0.8, color="#9A9A9A", pad=3,
                left=True, bottom=True)
ax1.tick_params(axis="y", pad=6)
ax1.set_xlabel("")
ax1.set_ylabel("")
leg1 = ax1.legend(loc="upper left", bbox_to_anchor=((683 - 163) / 662, (491 - 57) / 422),
                  frameon=True, fancybox=False, framealpha=1, edgecolor="none", facecolor="white",
                  prop={"family": "Lato", "weight": "bold", "size": 9}, handlelength=1.5,
                  handletextpad=0.15, labelspacing=1.52, borderpad=1.6, borderaxespad=0)
for h in leg1.get_lines():
    h.set_linewidth(2.0)

# ---------------- chart 2 ----------------
ax2 = px_axes(146, 874, 836, 1308)
sns.lineplot(x=base_m, y=base_v, ax=ax2, color="black", linewidth=2.0, label=c2_labels[0],
             drawstyle="steps-post", estimator=None, sort=False)
series(ax2, m3, "#8064A2", 1.7, c2_labels[1])
series(ax2, m6, "#1A6FC0", 1.7, c2_labels[2])
series(ax2, y1, "#7F7F7F", 1.7, c2_labels[3])
series(ax2, y3, "#93CDDD", 1.7, c2_labels[4])
series(ax2, y5, "#BFBFBF", 1.7, c2_labels[5])
series(ax2, y10, "#7F9AC6", 1.7, c2_labels[6])
ax2.set_xlim(0, 30.03)
ax2.set_ylim(0.5, 7.0)
ax2.set_yticks(np.arange(0.5, 7.01, 0.5))
ax2.set_yticklabels(c2_yticks, fontsize=8.5, color="#222222")
ax2.set_xticks(np.arange(0, 31, 1))
ax2.set_xticklabels(c2_ticks, rotation=25, ha="right", rotation_mode="anchor", fontsize=6.8, color="#222222")
ax2.yaxis.grid(True, linestyle=(0, (5, 3)), color="#595959", linewidth=1.2)
ax2.xaxis.grid(False)
ax2.set_axisbelow(True)
for sp in ["top", "right"]:
    ax2.spines[sp].set_visible(False)
for sp in ["left", "bottom"]:
    ax2.spines[sp].set_color("#8C8C8C")
    ax2.spines[sp].set_linewidth(1.0)
ax2.tick_params(axis="both", direction="out", length=4, width=0.8, color="#8C8C8C", pad=2,
                left=True, bottom=True)
ax2.tick_params(axis="y", pad=5)
ax2.set_xlabel("")
ax2.set_ylabel("")
leg2 = ax2.legend(loc="upper left", bbox_to_anchor=((160 - 146) / 690, (1308 - 1137) / 434),
                  frameon=True, fancybox=False, framealpha=1, edgecolor="none", facecolor="white",
                  prop={"family": "Lato", "weight": "bold", "size": 9.6}, handlelength=1.45,
                  handletextpad=0.14, labelspacing=0.9, borderpad=0.2, borderaxespad=0)
for h in leg2.get_lines():
    h.set_linewidth(2.0)

fig.savefig("out.png", dpi=DPI, facecolor="white")
